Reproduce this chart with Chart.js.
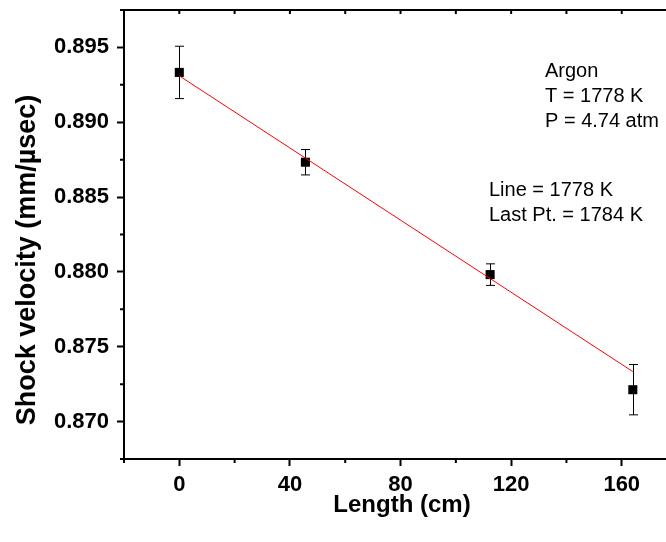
<!DOCTYPE html>
<html>
<head>
<meta charset="utf-8">
<script src="https://cdn.jsdelivr.net/npm/chart.js@4/dist/chart.umd.min.js"></script>
<style>
  html, body { margin: 0; padding: 0; background: #fff; }
</style>
</head>
<body>
<canvas id="chart" width="666" height="542"></canvas>
<script>
// measured shock velocity vs. distance along the tube
const lengthCm = [0, 45.6, 112.4, 164];
const velocity = [0.89333, 0.88733, 0.87982, 0.87213];
const velocityErr = [0.00175, 0.00085, 0.00072, 0.00168];

// linear fit
const fitLength = [0, 164];
const fitVelocity = [0.8931, 0.87334];

const xTicks = [0, 40, 80, 120, 160];
const xMinorTicks = [-20, 20, 60, 100, 140];
const xTopTicks = [-20, 0, 20, 40, 60, 80, 100, 120, 140, 160];
const yTicks = [0.870, 0.875, 0.880, 0.885, 0.890, 0.895];
const yMinorTicks = [0.8675, 0.8725, 0.8775, 0.8825, 0.8875, 0.8925, 0.8975];

const xTitle = "Length (cm)";
const yTitle = "Shock velocity (mm/\u00b5sec)";
const notesTop = ["Argon", "T = 1778 K", "P = 4.74 atm"];
const notesBottom = ["Line = 1778 K", "Last Pt. = 1784 K"];

const FONT = "'Liberation Sans', Arial, Helvetica, sans-serif";
const INK = "#000";

// axis frame extras, error bars and text
const framePlugin = {
  id: "frame",
  beforeDatasetsDraw(chart) {
    const { ctx, scales } = chart;
    const { x, y } = scales;
    ctx.save();
    ctx.strokeStyle = INK;
    ctx.lineWidth = 1;
    lengthCm.forEach((lx, i) => {
      const px = Math.round(x.getPixelForValue(lx)) + 0.5;
      const top = y.getPixelForValue(velocity[i] + velocityErr[i]);
      const bot = y.getPixelForValue(velocity[i] - velocityErr[i]);
      ctx.beginPath();
      ctx.moveTo(px, top);
      ctx.lineTo(px, bot);
      ctx.moveTo(px - 4.5, top);
      ctx.lineTo(px + 4.5, top);
      ctx.moveTo(px - 4.5, bot);
      ctx.lineTo(px + 4.5, bot);
      ctx.stroke();
    });
    ctx.restore();
  },
  afterDraw(chart) {
    const { ctx, chartArea, scales } = chart;
    const { x, y } = scales;
    ctx.save();
    ctx.strokeStyle = INK;
    ctx.lineWidth = 2;

    // top border with inward ticks
    ctx.beginPath();
    ctx.moveTo(chartArea.left - 1, chartArea.top);
    ctx.lineTo(chartArea.right, chartArea.top);
    xTopTicks.forEach((v) => {
      const px = x.getPixelForValue(v);
      ctx.moveTo(px, chartArea.top);
      ctx.lineTo(px, chartArea.top + 4);
    });
    // minor ticks
    xMinorTicks.forEach((v) => {
      const px = x.getPixelForValue(v);
      ctx.moveTo(px, chartArea.bottom);
      ctx.lineTo(px, chartArea.bottom + 4);
    });
    yMinorTicks.forEach((v) => {
      const py = y.getPixelForValue(v);
      ctx.moveTo(chartArea.left, py);
      ctx.lineTo(chartArea.left - 4, py);
    });
    ctx.stroke();

    // axis titles
    ctx.fillStyle = INK;
    ctx.font = `bold 24px ${FONT}`;
    ctx.textAlign = "center";
    ctx.textBaseline = "alphabetic";
    ctx.fillText(xTitle, 402, 512);

    ctx.save();
    ctx.translate(35, 260);
    ctx.rotate(-Math.PI / 2);
    ctx.font = `bold 27px ${FONT}`;
    ctx.fillText(yTitle, 0, 0);
    ctx.restore();

    // notes
    ctx.font = `20px ${FONT}`;
    ctx.textAlign = "left";
    notesTop.forEach((t, i) => ctx.fillText(t, 545, 77 + i * 25));
    notesBottom.forEach((t, i) => ctx.fillText(t, 489, 196 + i * 25));
    ctx.restore();
  },
};

const tickFont = { family: FONT, size: 22, weight: "bold" };

new Chart(document.getElementById("chart").getContext("2d"), {
  type: "scatter",
  data: {
    datasets: [
      {
        label: "Fit",
        data: fitLength.map((v, i) => ({ x: v, y: fitVelocity[i] })),
        showLine: true,
        borderColor: "#ff0000",
        borderWidth: 1,
        pointRadius: 0,
        fill: false,
      },
      {
        label: "Shock velocity",
        data: lengthCm.map((v, i) => ({ x: v, y: velocity[i] })),
        pointStyle: "rect",
        pointRadius: 6.4,
        backgroundColor: INK,
        borderWidth: 0,
      },
    ],
  },
  options: {
    responsive: false,
    animation: false,
    devicePixelRatio: 1,
    layout: { autoPadding: false, padding: { top: 10, left: 0, right: 0, bottom: 0 } },
    plugins: {
      legend: { display: false },
      tooltip: { enabled: false },
    },
    scales: {
      x: {
        type: "linear",
        min: -20,
        max: 176,
        afterBuildTicks: (s) => { s.ticks = xTicks.map((v) => ({ value: v })); },
        afterFit: (s) => {
          s.height = 83;
          s.paddingLeft = 0;
          s.paddingRight = 0;
        },
        ticks: { font: tickFont, color: INK, padding: 6, maxRotation: 0, autoSkip: false },
        grid: { drawOnChartArea: false, drawTicks: true, tickLength: 7, tickWidth: 2, tickColor: INK },
        border: { display: true, color: INK, width: 2 },
      },
      y: {
        type: "linear",
        min: 0.8675,
        max: 0.8975,
        afterBuildTicks: (s) => { s.ticks = yTicks.map((v) => ({ value: v })); },
        afterFit: (s) => {
          s.width = 124;
          s.paddingTop = 0;
          s.paddingBottom = 0;
        },
        ticks: {
          font: tickFont,
          color: INK,
          padding: 8,
          autoSkip: false,
          callback: (v) => v.toFixed(3),
        },
        grid: { drawOnChartArea: false, drawTicks: true, tickLength: 7, tickWidth: 2, tickColor: INK },
        border: { display: true, color: INK, width: 2 },
      },
    },
  },
  plugins: [framePlugin],
});
</script>
</body>
</html>
